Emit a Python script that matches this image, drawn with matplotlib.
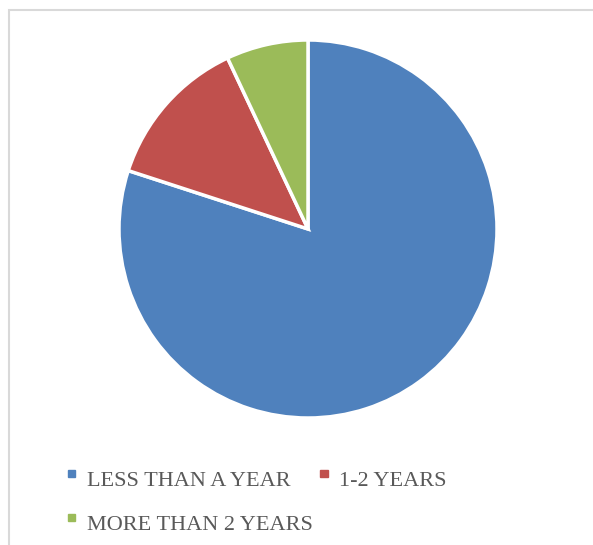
import matplotlib.pyplot as plt
from matplotlib.patches import Rectangle

# Datos del gráfico
categorias = ["LESS THAN A YEAR", "1-2 YEARS", "MORE THAN 2 YEARS"]
valores = [80, 13, 7]
colores = ["#4f81bd", "#c0504d", "#9bbb59"]

W, H = 593, 545
fig = plt.figure(figsize=(W / 100, H / 100), dpi=100)

# Marco gris del área del gráfico
fig.patches.append(Rectangle((9 / W, -0.1), 1.2, (H - 9.5) / H + 0.1,
                             transform=fig.transFigure, fill=False,
                             edgecolor="#d9d9d9", linewidth=1.5))

# Pastel
cx, cy, r = 308, 229, 189
ax = fig.add_axes([(cx - r) / W, (H - cy - r) / H, 2 * r / W, 2 * r / H])
ax.pie(valores, colors=colores, startangle=90, counterclock=False,
       wedgeprops=dict(edgecolor="white", linewidth=2.5))
ax.set_aspect("equal")
ax.set_xlim(-1, 1)
ax.set_ylim(-1, 1)
ax.axis("off")

# Leyenda manual: (x del cuadro, línea base del texto)
posiciones = [(68, 486), (320, 486), (68, 530)]
for (x, base), texto, color in zip(posiciones, categorias, colores):
    fig.patches.append(Rectangle((x / W, (H - base + 9) / H), 7.5 / W, 7.5 / H,
                                 transform=fig.transFigure, color=color))
    fig.text((x + 19) / W, (H - base) / H, texto, fontsize=16,
             family="Liberation Serif", color="#595959", va="baseline")

fig.savefig("out.png", dpi=100)
